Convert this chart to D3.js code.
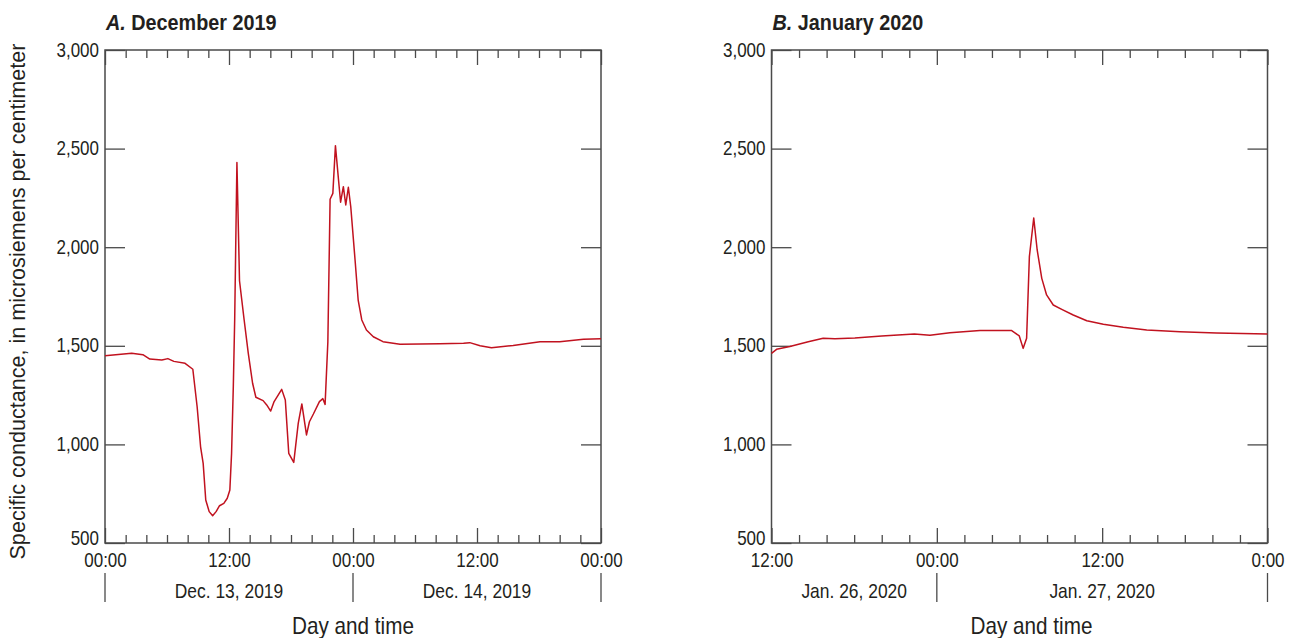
<!DOCTYPE html>
<html>
<head>
<meta charset="utf-8">
<script src="https://cdn.jsdelivr.net/npm/d3@7"></script>
<style>
  html, body { margin: 0; padding: 0; background: #fff; }
  svg { display: block; }
</style>
</head>
<body>
<svg id="chart" width="1292" height="638"></svg>
<script>
// Specific conductance records, two storm events
const timesA = [
  "2019-12-13 00:00", "2019-12-13 02:35", "2019-12-13 03:40", "2019-12-13 04:20",
  "2019-12-13 05:30", "2019-12-13 06:05", "2019-12-13 06:40", "2019-12-13 07:45",
  "2019-12-13 08:30", "2019-12-13 08:55", "2019-12-13 09:15", "2019-12-13 09:30",
  "2019-12-13 09:45", "2019-12-13 10:05", "2019-12-13 10:25", "2019-12-13 10:45",
  "2019-12-13 11:05", "2019-12-13 11:30", "2019-12-13 11:50", "2019-12-13 12:05",
  "2019-12-13 12:15", "2019-12-13 12:25", "2019-12-13 12:33", "2019-12-13 12:46",
  "2019-12-13 13:01", "2019-12-13 13:28", "2019-12-13 13:52", "2019-12-13 14:17",
  "2019-12-13 14:36", "2019-12-13 15:18", "2019-12-13 15:39", "2019-12-13 16:02",
  "2019-12-13 16:22", "2019-12-13 17:06", "2019-12-13 17:27", "2019-12-13 17:47",
  "2019-12-13 18:16", "2019-12-13 18:42", "2019-12-13 19:03", "2019-12-13 19:30",
  "2019-12-13 19:47", "2019-12-13 20:10", "2019-12-13 20:45", "2019-12-13 21:05",
  "2019-12-13 21:18", "2019-12-13 21:34", "2019-12-13 21:47", "2019-12-13 22:03",
  "2019-12-13 22:18", "2019-12-13 22:36", "2019-12-13 22:48", "2019-12-13 23:04",
  "2019-12-13 23:18", "2019-12-13 23:33", "2019-12-13 23:47", "2019-12-14 00:12",
  "2019-12-14 00:30", "2019-12-14 00:51", "2019-12-14 01:18", "2019-12-14 01:58",
  "2019-12-14 02:54", "2019-12-14 04:33", "2019-12-14 06:30", "2019-12-14 08:24",
  "2019-12-14 10:42", "2019-12-14 11:18", "2019-12-14 12:18", "2019-12-14 13:24",
  "2019-12-14 15:30", "2019-12-14 18:06", "2019-12-14 20:00", "2019-12-14 22:18",
  "2019-12-15 00:00"
];
const valuesA = [
  1450, 1462, 1455, 1433,
  1428, 1435, 1421, 1411,
  1381, 1191, 988, 904,
  718, 659, 638, 659,
  689, 701, 727, 769,
  955, 1293, 1631, 2430,
  1830, 1631, 1462, 1310,
  1239, 1222, 1200, 1169,
  1217, 1279, 1225, 955,
  909, 1107, 1205, 1048,
  1115, 1154, 1217, 1232,
  1203, 1520, 2243, 2273,
  2515, 2341, 2228, 2307,
  2214, 2304, 2205, 1935,
  1732, 1631, 1580, 1546,
  1521, 1508, 1509, 1511,
  1513, 1516, 1500, 1490,
  1502, 1521, 1521, 1533,
  1536
];

const timesB = [
  "2020-01-26 12:00", "2020-01-26 12:22", "2020-01-26 13:20", "2020-01-26 14:40",
  "2020-01-26 15:45", "2020-01-26 16:36", "2020-01-26 18:03", "2020-01-26 20:00",
  "2020-01-26 22:22", "2020-01-26 23:30", "2020-01-27 00:57", "2020-01-27 03:08",
  "2020-01-27 05:26", "2020-01-27 05:40", "2020-01-27 05:59", "2020-01-27 06:16",
  "2020-01-27 06:31", "2020-01-27 06:43", "2020-01-27 07:02", "2020-01-27 07:17",
  "2020-01-27 07:37", "2020-01-27 07:58", "2020-01-27 08:27", "2020-01-27 09:04",
  "2020-01-27 09:54", "2020-01-27 10:53", "2020-01-27 12:05", "2020-01-27 13:32",
  "2020-01-27 15:14", "2020-01-27 17:39", "2020-01-27 20:18", "2020-01-28 00:00"
];
const valuesB = [
  1462, 1482, 1496, 1521,
  1538, 1536, 1540, 1550,
  1560, 1553, 1566, 1577,
  1577, 1566, 1550, 1487,
  1538, 1952, 2148, 1986,
  1842, 1758, 1707, 1685,
  1656, 1627, 1609, 1594,
  1580, 1571, 1565, 1560
];

// Axis ticks and labels
const yTicks = [500, 1000, 1500, 2000, 2500, 3000];
const timeLabelsA = ["00:00", "12:00", "00:00", "12:00", "00:00"];
const timeLabelsB = ["12:00", "00:00", "12:00", "0:00"];
const dayLabelsA = ["Dec. 13, 2019", "Dec. 14, 2019"];
const dayLabelsB = ["Jan. 26, 2020", "Jan. 27, 2020"];
const yTitle = "Specific conductance, in microsiemens per centimeter";
const xTitle = "Day and time";

const parse = d3.timeParse("%Y-%m-%d %H:%M");

const FONT = '"Liberation Sans", Arial, sans-serif';
const SQUEEZE = 0.85;          // horizontal squeeze for a condensed face
const AXIS = "#4a4a4a";
const TEXT = "#231f20";
const LINE = "#c1121f";

const svg = d3.select("#chart");
const H = 493, W = 496, TOP = 50;

// place a text at (x, y) and squeeze it horizontally
function condensed(sel, x, y, k = SQUEEZE) {
  sel.attr("x", 0).attr("y", 0)
    .attr("transform", (d, i) => {
      const xx = typeof x === "function" ? x(d, i) : x;
      const yy = typeof y === "function" ? y(d, i) : y;
      return `translate(${xx},${yy}) scale(${k},1)`;
    });
}

function drawPanel(opt) {
  const g = svg.append("g").attr("transform", `translate(${opt.left},${TOP})`);
  const t0 = parse(opt.start), t1 = parse(opt.end);
  const x = d3.scaleTime().domain([t0, t1]).range([0, W]);
  const y = d3.scaleLinear().domain([500, 3000]).range([H, 0]);

  const twoHour = d3.timeHour.every(2).range(t0, d3.timeMinute.offset(t1, 1));
  const isMajor = d => d.getHours() % 12 === 0;
  const majors = twoHour.filter(isMajor);
  const labelOf = new Map(majors.map((d, i) => [+d, opt.timeLabels[i]]));

  // bottom axis: inward ticks, labels at 12-hour marks
  const bottom = g.append("g").attr("transform", `translate(0,${H})`)
    .call(d3.axisBottom(x).tickValues(twoHour).tickSizeInner(-8).tickSizeOuter(0)
      .tickFormat(d => labelOf.get(+d) || ""));
  bottom.select(".domain").remove();
  bottom.selectAll(".tick line").attr("stroke", AXIS).attr("stroke-width", 1.3)
    .attr("y2", d => isMajor(d) ? -15 : -8);
  bottom.selectAll(".tick text").attr("dy", 0)
    .attr("font-family", FONT).attr("font-size", 20).attr("fill", TEXT)
    .call(condensed, 0, 24);

  // top axis: ticks only
  const topAx = g.append("g")
    .call(d3.axisTop(x).tickValues(twoHour).tickSizeInner(-8).tickSizeOuter(0).tickFormat(""));
  topAx.select(".domain").remove();
  topAx.selectAll(".tick line").attr("stroke", AXIS).attr("stroke-width", 1.3)
    .attr("y2", d => isMajor(d) ? 15 : 8);

  // left axis with labels, right axis ticks only
  const left = g.append("g")
    .call(d3.axisLeft(y).tickValues(yTicks).tickSizeInner(-20).tickSizeOuter(0)
      .tickFormat(d3.format(",")));
  left.select(".domain").remove();
  left.selectAll(".tick line").attr("stroke", AXIS).attr("stroke-width", 1.3);
  left.selectAll(".tick text").attr("dy", 0)
    .attr("font-family", FONT).attr("font-size", 20).attr("fill", TEXT)
    .call(condensed, -6, d => d === yTicks[0] ? 1 : 6);

  const right = g.append("g").attr("transform", `translate(${W},0)`)
    .call(d3.axisRight(y).tickValues(yTicks).tickSizeInner(-20).tickSizeOuter(0).tickFormat(""));
  right.select(".domain").remove();
  right.selectAll(".tick line").attr("stroke", AXIS).attr("stroke-width", 1.3);

  // frame
  g.append("rect").attr("width", W).attr("height", H)
    .attr("fill", "none").attr("stroke", AXIS).attr("stroke-width", 1.5);

  // day separators and day labels
  const seps = opt.separators.map(parse);
  g.selectAll(".sep").data(seps).join("line").attr("class", "sep")
    .attr("x1", d => x(d)).attr("x2", d => x(d))
    .attr("y1", H + 30).attr("y2", H + 59)
    .attr("stroke", AXIS).attr("stroke-width", 1.3);
  const dayBounds = opt.dayBounds.map(parse);
  g.selectAll(".day").data(opt.dayLabels).join("text").attr("class", "day")
    .attr("text-anchor", "middle")
    .attr("font-family", FONT).attr("font-size", 20.5).attr("fill", TEXT)
    .text(d => d)
    .call(condensed, (d, i) => (x(dayBounds[i]) + x(dayBounds[i + 1])) / 2, H + 55);

  g.append("text").attr("text-anchor", "middle")
    .attr("font-family", FONT).attr("font-size", 23).attr("fill", TEXT)
    .text(xTitle)
    .call(condensed, opt.xTitleX, H + 91, 0.9);

  // panel title
  const title = g.append("text")
    .attr("font-family", FONT).attr("font-size", 22.5).attr("font-weight", "bold").attr("fill", TEXT)
    .call(condensed, 1, -20, 0.88);
  title.append("tspan").attr("font-style", "italic").text(opt.letter);
  title.append("tspan").text(" " + opt.title);

  // data line
  const data = opt.times.map((t, i) => ({ t: parse(t), v: opt.values[i] }));
  g.append("path").datum(data)
    .attr("fill", "none").attr("stroke", LINE).attr("stroke-width", 1.5)
    .attr("stroke-linejoin", "round")
    .attr("d", d3.line().x(d => x(d.t)).y(d => y(d.v)));

  return g;
}

drawPanel({
  left: 105, start: "2019-12-13 00:00", end: "2019-12-15 00:00",
  times: timesA, values: valuesA, timeLabels: timeLabelsA,
  separators: ["2019-12-13 00:00", "2019-12-14 00:00", "2019-12-15 00:00"],
  dayBounds: ["2019-12-13 00:00", "2019-12-14 00:00", "2019-12-15 00:00"],
  dayLabels: dayLabelsA, xTitleX: W / 2, letter: "A.", title: "December 2019"
});

drawPanel({
  left: 771.5, start: "2020-01-26 12:00", end: "2020-01-28 00:00",
  times: timesB, values: valuesB, timeLabels: timeLabelsB,
  separators: ["2020-01-27 00:00", "2020-01-28 00:00"],
  dayBounds: ["2020-01-26 12:00", "2020-01-27 00:00", "2020-01-28 00:00"],
  dayLabels: dayLabelsB, xTitleX: W / 2 + 12, letter: "B.", title: "January 2020"
});

// shared y-axis title
svg.append("text")
  .attr("transform", `translate(25,${TOP + H / 2 + 5}) rotate(-90)`)
  .attr("text-anchor", "middle")
  .attr("font-family", FONT).attr("font-size", 21.6).attr("fill", TEXT)
  .text(yTitle);
</script>
</body>
</html>
